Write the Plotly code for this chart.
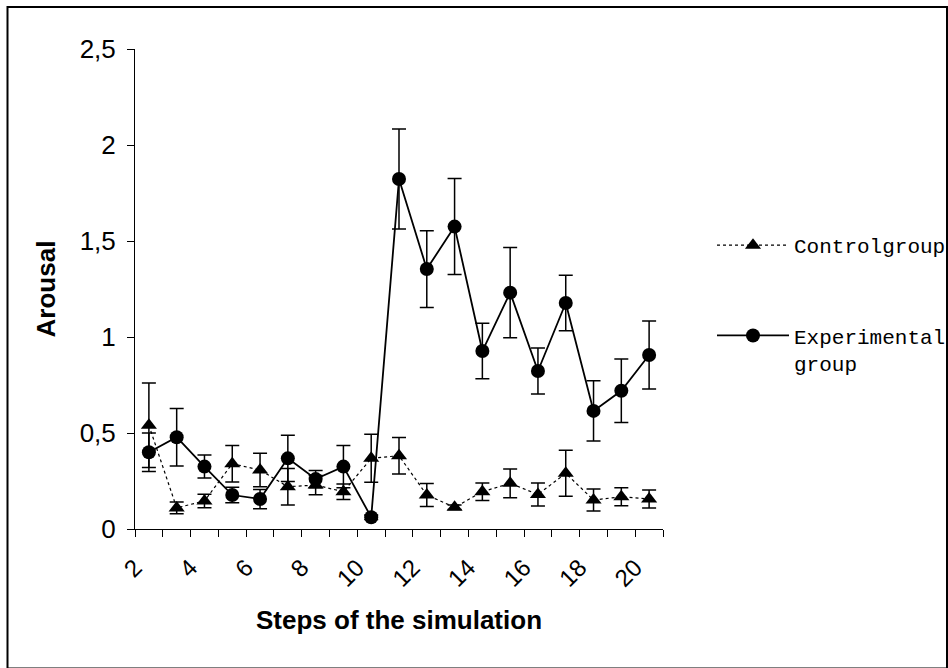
import plotly.graph_objects as go

# ---- data ----
steps = list(range(2, 21))
label_steps = list(range(2, 21, 2))
tick_text = [str(s) for s in label_steps]

control_mean = [0.54, 0.11, 0.146, 0.34, 0.307, 0.22, 0.229, 0.194, 0.368, 0.382,
                0.177, 0.113, 0.194, 0.238, 0.18, 0.29, 0.151, 0.168, 0.156]
control_err = [0.22, 0.03, 0.035, 0.095, 0.087, 0.095, 0.05, 0.04, 0.125, 0.095,
               0.06, 0.012, 0.045, 0.075, 0.06, 0.12, 0.057, 0.047, 0.047]

exp_mean = [0.40, 0.478, 0.325, 0.177, 0.156, 0.368, 0.26, 0.325, 0.061, 1.823,
            1.354, 1.575, 0.927, 1.231, 0.823, 1.177, 0.615, 0.72, 0.906]
exp_err = [0.10, 0.15, 0.06, 0.04, 0.05, 0.12, 0.045, 0.11, 0.012, 0.26,
           0.20, 0.25, 0.145, 0.235, 0.12, 0.145, 0.157, 0.165, 0.177]

y_ticks = [0, 0.5, 1, 1.5, 2, 2.5]
y_tick_text = ["0", "0,5", "1", "1,5", "2", "2,5"]

# ---- layout constants (pixels) ----
W, H = 948, 668
ML, MR, MT, MB = 135, 285, 49, 139
PW, PH = W - ML - MR, H - MT - MB

def px_x(p):
    return (p - ML) / PW

def px_y(p):
    return (H - MB - p) / PH

fig = go.Figure()

fig.add_trace(go.Scatter(
    x=steps, y=control_mean, name="Controlgroup", legendgroup="c",
    mode="lines+markers",
    line=dict(color="black", width=1.2, dash="3px,3px"),
    marker=dict(symbol="triangle-up", size=14, color="black"),
    error_y=dict(type="data", array=control_err, visible=True,
                 color="black", thickness=1.5, width=7),
))

fig.add_trace(go.Scatter(
    x=steps, y=exp_mean, name="Experimental<br>group", legendgroup="e",
    mode="lines+markers",
    line=dict(color="black", width=1.8),
    marker=dict(symbol="circle", size=14, color="black"),
    error_y=dict(type="data", array=exp_err, visible=True,
                 color="black", thickness=1.5, width=7),
))

fig.update_layout(
    width=W, height=H,
    margin=dict(l=ML, r=MR, t=MT, b=MB, autoexpand=False),
    paper_bgcolor="white", plot_bgcolor="white",
    font=dict(family="Liberation Sans, Arial", color="black", size=26),
    showlegend=True,
    legend=dict(
        x=px_x(712), y=px_y(225), xanchor="left", yanchor="top",
        font=dict(family="Liberation Mono, Courier New", size=21, color="black"),
        tracegroupgap=60, valign="top", bgcolor="rgba(0,0,0,0)",
        itemwidth=72,
    ),
    xaxis=dict(
        range=[1.5, 20.5],
        tickmode="array",
        tickvals=[s - 0.5 for s in label_steps],
        ticktext=tick_text,
        tickangle=-45,
        ticks="outside", ticklen=7, tickcolor="black", tickwidth=1,
        minor=dict(ticks="outside", ticklen=7, tickcolor="black", tickwidth=1,
                   tick0=1.5, dtick=1),
        showline=True, linecolor="black", linewidth=1,
        showgrid=False, zeroline=False,
        tickfont=dict(size=24),
        ticklabelstandoff=7,
        title=dict(text="<b>Steps of the simulation</b>",
                   font=dict(size=26), standoff=20),
    ),
    yaxis=dict(
        range=[0, 2.5],
        tickmode="array", tickvals=y_ticks, ticktext=y_tick_text,
        ticks="outside", ticklen=7, tickcolor="black", tickwidth=1,
        showline=True, linecolor="black", linewidth=1,
        showgrid=False, zeroline=False,
        tickfont=dict(size=26),
        ticklabelstandoff=6,
        title=dict(text="<b>Arousal</b>", font=dict(size=26), standoff=16),
    ),
    shapes=[dict(
        type="rect", xref="paper", yref="paper",
        x0=px_x(7.5), x1=px_x(947), y0=px_y(668.5), y1=px_y(7),
        line=dict(color="black", width=2), fillcolor="rgba(0,0,0,0)",
        layer="above",
    )],
)

fig.write_html("out.html")
